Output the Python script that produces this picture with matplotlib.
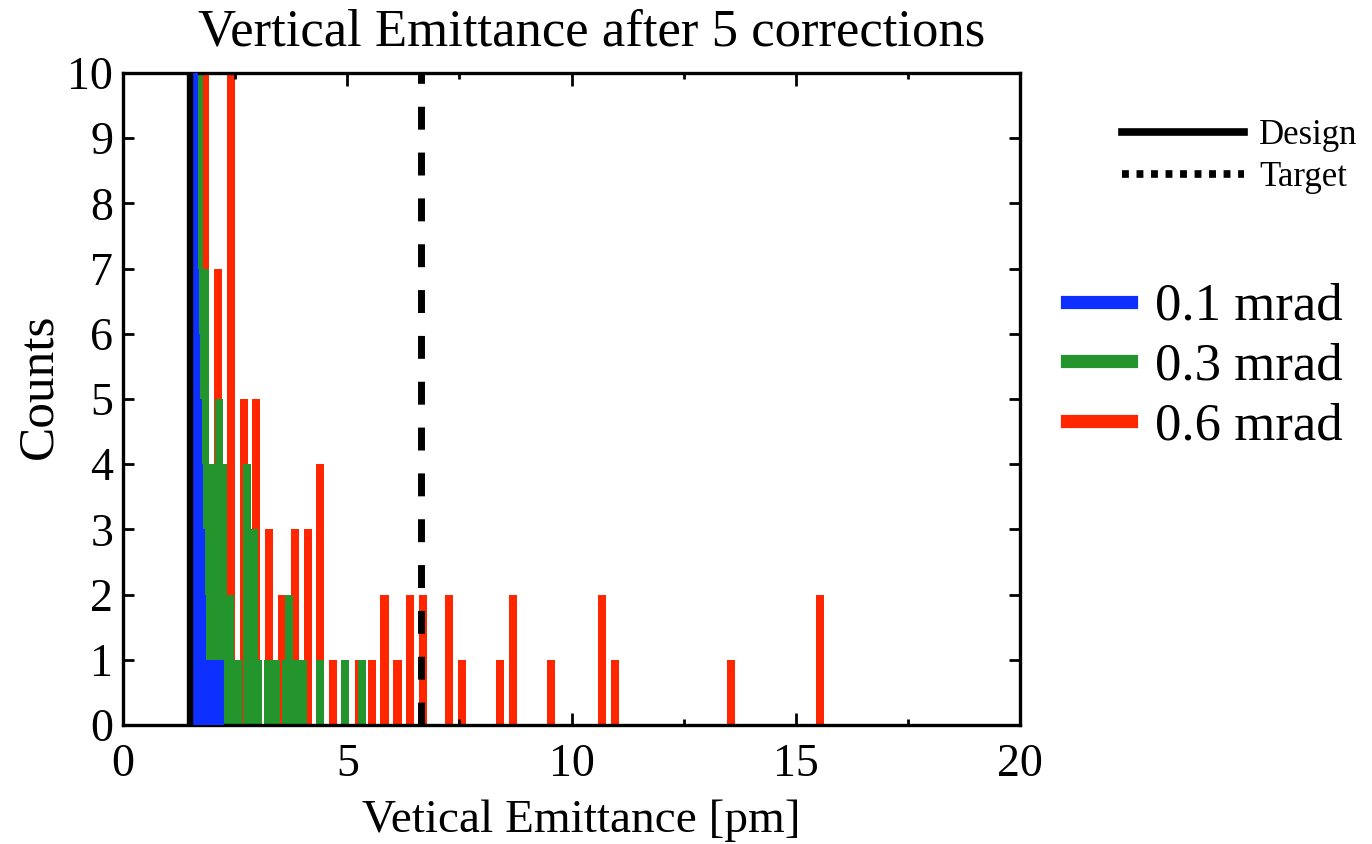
# ============================================================
#  Vertical emittance histogram after 5 corrections
# ============================================================

import matplotlib
matplotlib.use("Agg")
import matplotlib.pyplot as plt
from matplotlib.lines import Line2D
from matplotlib.ticker import MultipleLocator

plt.rcParams["font.family"] = ["Liberation Serif", "DejaVu Serif"]

# ── Data (bin centres in pm, counts per bin) ────────────────
blue_centers = [1.59, 1.612, 1.634, 1.679, 1.701, 1.739, 1.761,
                1.85, 1.95, 2.05, 2.163]
blue_counts  = [40, 7, 6, 5, 4, 3, 2, 1, 1, 1, 1]

green_centers = [1.70, 1.83, 1.955, 2.13, 2.22, 2.39, 2.47, 2.56,
                 2.77, 2.91, 3.00, 3.23, 3.40, 3.63, 3.70, 3.86,
                 4.02, 4.39, 4.95, 5.33]
green_counts  = [15, 7, 4, 5, 4, 2, 1, 1,
                 4, 3, 1, 1, 1, 1, 2, 1,
                 1, 1, 1, 1]

red_centers = [1.83, 2.12, 2.40, 2.69, 2.97, 3.26, 3.55, 3.83, 4.12,
               4.40, 4.69, 5.26, 5.55, 5.83, 6.12, 6.40, 6.69, 7.26,
               7.55, 8.40, 8.69, 9.55, 10.69, 10.98, 13.55, 15.55]
red_counts  = [14, 7, 11, 5, 5, 3, 2, 3, 3,
               4, 1, 1, 1, 2, 1, 2, 2, 2,
               1, 1, 2, 1, 2, 1, 1, 2]

DESIGN = 1.49   # pm
TARGET = 6.64   # pm

SERIES = ["0.1 mrad", "0.3 mrad", "0.6 mrad"]
COLORS = {
    "0.1 mrad": "#0d2fff",
    "0.3 mrad": "#24952c",
    "0.6 mrad": "#ff2600",
}
BAR_W = 0.18

# ── Figure ─────────────────────────────────────────────────
fig = plt.figure(figsize=(13.72, 8.44), dpi=100)
ax = fig.add_axes([0.0897, 0.141, 0.6537, 0.7725])

ax.bar(red_centers, red_counts, width=BAR_W, color=COLORS["0.6 mrad"],
       linewidth=0, zorder=1)
ax.bar(green_centers, green_counts, width=BAR_W, color=COLORS["0.3 mrad"],
       linewidth=0, zorder=2)
ax.bar(blue_centers, blue_counts, width=BAR_W, color=COLORS["0.1 mrad"],
       linewidth=0, zorder=3)

ax.axvline(DESIGN, color="black", lw=4.6, zorder=4)
ax.axvline(TARGET, color="black", lw=5, ls=(0, (3.3, 3.3)), zorder=4)

ax.set_xlim(0, 20)
ax.set_ylim(0, 10)

ax.xaxis.set_major_locator(MultipleLocator(5))
ax.xaxis.set_minor_locator(MultipleLocator(2.5))
ax.yaxis.set_major_locator(MultipleLocator(1))

ax.tick_params(which="both", direction="in", top=True, right=True,
               width=2, labelsize=33)
ax.tick_params(axis="x", which="major", length=9, pad=13)
ax.tick_params(axis="x", which="minor", length=4)
ax.tick_params(axis="y", which="major", length=8, pad=7)

for sp in ax.spines.values():
    sp.set_linewidth(2.4)

ax.set_xlabel("Vetical Emittance [pm]", fontsize=34)
ax.xaxis.set_label_coords(0.5106, -0.115)
ax.set_ylabel("Counts", fontsize=37)
ax.yaxis.set_label_coords(-0.068, 0.52)

fig.text(0.4315, 0.9455, "Vertical Emittance after 5 corrections",
         fontsize=38, ha="center", va="baseline")

# ── Legends ────────────────────────────────────────────────
line_handles = [
    Line2D([], [], color="black", lw=5.5),
    Line2D([], [], color="black", lw=5.5, ls=(0, (0.9, 1.0))),
]
fig.legend(handles=line_handles, labels=["Design", "Target"],
           loc="upper left", bbox_to_anchor=(0.8178, 0.859),
           frameon=False, fontsize=25, handlelength=3.5,
           handletextpad=0.45, labelspacing=0.25,
           borderaxespad=0, borderpad=0)

bar_handles = [Line2D([], [], color=COLORS[s], lw=9.5) for s in SERIES]
fig.legend(handles=bar_handles, labels=SERIES,
           loc="upper left", bbox_to_anchor=(0.7777, 0.6647),
           frameon=False, fontsize=38, handlelength=1.21,
           handletextpad=0.45, labelspacing=0.22,
           borderaxespad=0, borderpad=0)

plt.savefig("out.png", dpi=100)
print("Plot saved → out.png")
